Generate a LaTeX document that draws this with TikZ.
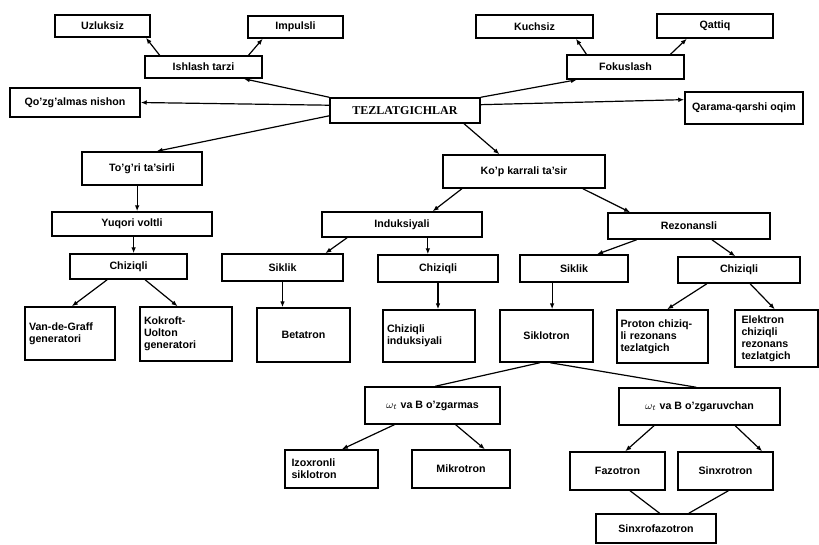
\documentclass[tikz,border=0pt]{standalone}
\usepackage{fontspec}
\setmainfont{Liberation Sans}
\newfontfamily\titlefont{Liberation Serif}
\usetikzlibrary{arrows.meta, calc}

% point on a side of a box: node, side, fraction from west to east
\newcommand{\edgept}[3]{($(#1.#2 west)!#3!(#1.#2 east)$)}

\begin{document}
\begin{tikzpicture}[x=0.75pt, y=-0.75pt,
    box/.style 2 args={draw, line width=1.1pt, minimum width=#1*0.75pt, minimum height=#2*0.75pt,
        inner sep=1.5pt, font=\fontsize{8}{9}\selectfont\bfseries},
    txt/.style={text width=#1*0.75pt, align=left},
    arr/.style={-{Latex[length=4.5pt,width=3.5pt]}, line width=0.9pt},
    ln/.style={line width=0.9pt}]
    \useasboundingbox (0,0) rectangle (819,544);

    % top level
    \node[box={150}{25}, font=\titlefont\fontsize{9}{10}\selectfont\bfseries] (tez) at (405,110.5) {TEZLATGICHLAR};
    \node[box={130}{29}] (qoz) at (75,102.5) {Qo'zg'almas nishon};
    \node[box={118}{32}] (qar) at (744,108) {Qarama-qarshi oqim};
    \node[box={117}{22}] (ish) at (203.5,67) {Ishlash tarzi};
    \node[box={95}{22}] (uzl) at (102.5,26) {Uzluksiz};
    \node[box={95}{22}] (imp) at (295.5,27) {Impulsli};
    \node[box={117}{24}] (fok) at (625.5,67) {Fokuslash};
    \node[box={117}{23}] (kuch) at (534.5,26.5) {Kuchsiz};
    \node[box={116}{24}] (qat) at (715,26) {Qattiq};

    \draw[arr] \edgept{ish}{north}{0.13} -- \edgept{uzl}{south}{0.95};
    \draw[arr] \edgept{ish}{north}{0.88} -- \edgept{imp}{south}{0.16};
    \draw[arr] (tez.north west) -- \edgept{ish}{south}{0.84};
    \draw[arr] (tez.north east) -- \edgept{fok}{south}{0.09};
    \draw[arr] \edgept{fok}{north}{0.17} -- \edgept{kuch}{south}{0.85};
    \draw[arr] \edgept{fok}{north}{0.88} -- \edgept{qat}{south}{0.26};
    \draw[arr] ($(tez.north west)!0.3!(tez.south west)$) -- (qoz.east);
    \draw[arr] ($(tez.north east)!0.28!(tez.south east)$) -- ($(qar.north west)!0.25!(qar.south west)$);

    % two branches
    \node[box={120}{33}] (tog) at (142,168.5) {To'g'ri ta'sirli};
    \node[box={162}{33}] (kop) at (524,171.5) {Ko'p karrali ta'sir};
    \draw[arr] ($(tez.north west)!0.7!(tez.south west)$) -- \edgept{tog}{north}{0.62};
    \draw[arr] \edgept{tez}{south}{0.89} -- \edgept{kop}{north}{0.35};

    \node[box={160}{24}] (yuq) at (132,224) {Yuqori voltli};
    \node[box={160}{25}] (ind) at (402,224.5) {Induksiyali};
    \node[box={162}{26}] (rez) at (689,226) {Rezonansli};
    \draw[arr] \edgept{tog}{south}{0.46} coordinate (a1) -- (a1 |- yuq.north);
    \draw[arr] \edgept{kop}{south}{0.12} -- \edgept{ind}{north}{0.69};
    \draw[arr] \edgept{kop}{south}{0.86} -- \edgept{rez}{north}{0.14};

    \node[box={117}{25}] (chl) at (128.5,266.5) {Chiziqli};
    \node[box={121}{27}] (sik1) at (282.5,267.5) {Siklik};
    \node[box={120}{27}] (chz2) at (438,268.5) {Chiziqli};
    \node[box={108}{27}] (sik2) at (574,268.5) {Siklik};
    \node[box={122}{26}] (chz3) at (739,270) {Chiziqli};
    \draw[arr] \edgept{yuq}{south}{0.51} coordinate (a2) -- (a2 |- chl.north);
    \draw[arr] \edgept{ind}{south}{0.16} -- \edgept{sik1}{north}{0.85};
    \draw[arr] \edgept{ind}{south}{0.66} coordinate (a3) -- (a3 |- chz2.north);
    \draw[arr] \edgept{rez}{south}{0.18} -- \edgept{sik2}{north}{0.71};
    \draw[arr] \edgept{rez}{south}{0.64} -- \edgept{chz3}{north}{0.47};

    % accelerators
    \node[box={90}{53}, txt=82] (vdg) at (70,333.5) {Van-de-Graff generatori};
    \node[box={92}{54}, txt=84] (kok) at (186,334) {Kokroft-\\Uolton\\generatori};
    \node[box={93}{54}] (bet) at (303.5,335) {Betatron};
    \node[box={92}{52}, txt=84] (chi) at (429,336) {Chiziqli\\induksiyali};
    \node[box={93}{52}] (sikl) at (546.5,336) {Siklotron};
    \node[box={91}{53}, txt=84] (pro) at (662.5,336.5) {Proton chiziq-\\li rezonans\\tezlatgich};
    \node[box={83}{57}, txt=70] (ele) at (776.5,338.5) {Elektron\\chiziqli\\rezonans\\tezlatgich};
    \draw[arr] \edgept{chl}{south}{0.32} -- \edgept{vdg}{north}{0.52};
    \draw[arr] \edgept{chl}{south}{0.64} -- \edgept{kok}{north}{0.41};
    \draw[arr] (sik1.south) -- (sik1.south |- bet.north);
    \draw[arr] (chz2.south) -- (chz2.south |- chi.north);
    \draw[arr] \edgept{sik2}{south}{0.3} coordinate (a4) -- (a4 |- sikl.north);
    \draw[arr] \edgept{chz3}{south}{0.24} -- \edgept{pro}{north}{0.55};
    \draw[arr] \edgept{chz3}{south}{0.59} -- \edgept{ele}{north}{0.48};

    % cyclotron family
    \node[box={135}{37}] (om1) at (432.5,405.5) {$\omega_t$ va B o'zgarmas};
    \node[box={161}{37}] (om2) at (699.5,406.5) {$\omega_t$ va B o'zgaruvchan};
    \draw[ln] \edgept{sikl}{south}{0.43} -- \edgept{om1}{north}{0.52};
    \draw[ln] \edgept{sikl}{south}{0.54} -- \edgept{om2}{north}{0.48};

    \node[box={93}{38}, txt=80] (izo) at (331.5,469) {Izoxronli\\siklotron};
    \node[box={98}{38}] (mik) at (461,469) {Mikrotron};
    \node[box={95}{38}] (faz) at (617.5,471) {Fazotron};
    \node[box={95}{38}] (sin) at (725.5,471) {Sinxrotron};
    \node[box={120}{29}] (sxf) at (656,528.5) {Sinxrofazotron};
    \draw[arr] \edgept{om1}{south}{0.22} -- \edgept{izo}{north}{0.61};
    \draw[arr] \edgept{om1}{south}{0.67} -- \edgept{mik}{north}{0.74};
    \draw[arr] \edgept{om2}{south}{0.22} -- \edgept{faz}{north}{0.58};
    \draw[arr] \edgept{om2}{south}{0.72} -- \edgept{sin}{north}{0.88};
    \draw[ln] \edgept{faz}{south}{0.63} -- \edgept{sxf}{north}{0.53};
    \draw[ln] \edgept{sin}{south}{0.53} -- \edgept{sxf}{north}{0.77};
\end{tikzpicture}
\end{document}
